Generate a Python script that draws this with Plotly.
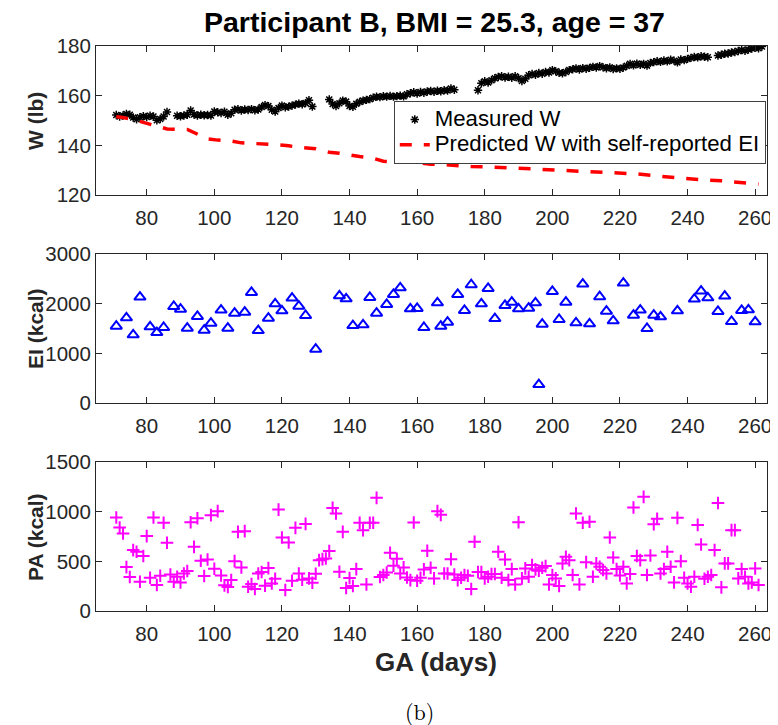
import plotly.graph_objects as go

# ---------------- data ----------------
w_days = list(range(71, 263))
measured_w = [
    152.2, 151.6, 152.0, 152.6, 152.3, 151.2, 150.5, 151.3, 151.7, 151.4,
    151.9, 151.6, 150.1, 150.6, 151.6, 153.4, None, None, 151.9, 151.7,
    152.0, 152.3, 154.0, 152.4, 152.0, 152.3, 152.1, 152.2, 152.0, 153.6,
    153.3, 153.0, 153.5, 152.3, 152.9, 154.3, 154.5, 154.0, 154.4, 154.2,
    154.6, 154.1, 154.4, 155.4, 156.2, 155.8, 154.3, 153.6, 155.0, 156.0,
    155.3, 155.6, 156.0, 156.4, 156.8, 156.5, 157.0, 158.2, 155.6, None,
    None, None, None, 158.5, 156.6, 155.8, 156.9, 158.0, 157.6, 155.8,
    155.5, 156.7, 157.5, 158.0, 158.3, 158.6, 159.2, 159.6, 159.4, 159.8,
    159.6, 159.9, 159.6, 159.8, 160.0, 159.7, 160.6, 161.0, 161.4, 160.9,
    161.5, 161.2, 161.7, 161.9, 161.6, 162.0, 161.8, 162.2, 162.1, 162.9,
    162.4, None, None, None, None, None, None, 162.2, 165.0, 165.8,
    165.3, 166.2, 167.0, 167.5, 167.8, 167.3, 167.6, 167.2, 167.8, 167.0,
    165.9, 166.8, 168.2, 168.7, 168.4, 169.1, 168.8, 169.5, 169.3, 170.3,
    169.8, 169.2, 169.0, 169.5, 170.3, 170.6, 171.0, 170.5, 171.1, 170.8,
    171.2, 171.6, 171.3, 171.9, 171.4, 171.0, 171.4, 170.7, 171.0, 170.8,
    171.3, 172.0, 172.8, 172.2, 172.9, 172.4, 172.8, 172.1, 173.2, 173.5,
    173.9, 173.6, 174.2, 173.8, 174.5, 174.1, 173.4, 174.6, 174.3, 174.8,
    175.2, 175.6, 175.4, 175.9, 175.7, 175.5, None, None, 176.2, 176.5,
    176.9, 177.0, 177.4, 177.6, 178.0, 178.4, 178.1, 178.6, 179.0, 179.3,
    179.1, 179.8,
]

pred_days = [71, 73, 77, 83, 86, 92, 95, 98, 101, 105, 108, 112, 118, 122, 125,
             130, 134, 137, 140, 143, 147, 150, 153, 157, 160, 164, 168, 172,
             176, 180, 185, 190, 195, 200, 205, 210, 215, 220, 225, 230, 235,
             240, 245, 250, 255, 261]
pred_w = [151.5, 151.2, 150.0, 147.7, 146.6, 146.4, 144.5, 142.6, 142.1, 141.7,
          141.0, 140.8, 140.3, 139.8, 139.2, 138.6, 137.2, 136.8, 136.0, 135.5,
          134.8, 133.6, 133.3, 133.4, 133.0, 132.4, 132.2, 131.7, 131.5, 131.4,
          131.1, 130.9, 130.6, 130.2, 130.0, 129.5, 129.1, 128.9, 128.5, 127.8,
          127.2, 126.3, 126.0, 125.7, 125.1, 124.4]

ei_days = [71, 74, 76, 78, 81, 83, 85, 88, 90, 92,
           95, 97, 99, 102, 104, 106, 109, 111, 113, 116,
           118, 120, 123, 125, 127, 130, 137, 139, 141, 144,
           146, 148, 151, 153, 155, 158, 160, 162, 166, 167,
           169, 172, 174, 176, 179, 181, 183, 186, 188, 190,
           193, 195, 196, 197, 200, 202, 204, 207, 209, 211,
           214, 216, 218, 221, 224, 226, 228, 230, 232, 237,
           242, 244, 246, 249, 251, 253, 256, 258, 260]
ei_vals = [1547, 1715, 1372, 2132, 1533, 1419, 1520, 1943, 1890, 1506,
           1742, 1466, 1607, 1870, 1506, 1809, 1829, 2226, 1459, 1708,
           1997, 1856, 2112, 1950, 1762, 1083, 2159, 2098, 1560, 1574,
           2125, 1809, 1984, 2186, 2320, 1896, 1903, 1520, 2017, 1547,
           1627, 2186, 1863, 2381, 1997, 2307, 1701, 1964, 2031, 1896,
           1910, 2017, 370, 1587, 2246, 1681, 2031, 1614, 2394, 1594,
           2139, 1849, 1654, 2414, 1769, 1870, 1500, 1769, 1735, 1856,
           2092, 2253, 2118, 1843, 2152, 1641, 1863, 1876, 1634]

pa_days = list(range(71, 262))
pa_vals = [
    941, 841, 780, 442, 342, 613, 596, 295, 553, 754,
    335, 941, 261, 355, 888, 687, 368, 295, 345, 288,
    378, 402, 894, 646, 934, 506, 352, 519, 965, 425,
    1005, 358, 258, 241, 311, 502, 797, 439, 804, 244,
    271, 221, 378, 392, 255, 432, 278, 325, 1021, 740,
    211, 690, 305, 837, 378, 315, 877, 328, 285, 375,
    512, 522, 529, 603, 1038, 981, 395, 797, 231, 332,
    251, 422, 888, 814, 268, 888, 888, 1139, 342, 362,
    388, 586, 455, 526, 378, 439, 338, 311, 891, 305,
    335, 419, 606, 435, 328, 1005, 968, 378, 378, 522,
    368, 311, 335, 362, 355, 221, 697, 392, 392, 328,
    345, 372, 372, 596, 335, 519, 311, 422, 268, 894,
    328, 429, 345, 462, 419, 405, 435, 452, 268, 362,
    328, 251, 479, 546, 512, 362, 981, 268, 888, 492,
    898, 345, 479, 445, 412, 378, 740, 539, 422, 358,
    445, 278, 372, 1042, 553, 512, 1149, 362, 559, 874,
    928, 378, 422, 596, 445, 288, 938, 502, 335, 278,
    244, 345, 867, 670, 325, 345, 362, 613, 1088, 238,
    479, 479, 814, 814, 328, 422, 345, 278, 288, 429,
    261,
]

x_ticks = [80, 100, 120, 140, 160, 180, 200, 220, 240, 260]
w_ticks = [120, 140, 160, 180]
ei_ticks = [0, 1000, 2000, 3000]
pa_ticks = [0, 500, 1000, 1500]

title_text = "Participant B, BMI = 25.3, age = 37"
series_names = ["Measured W", "Predicted W with self-reported EI"]
ylabels = ["W (lb)", "EI (kcal)", "PA (kcal)"]
xlabel = "GA (days)"

# ---------------- figure ----------------
FONT = "Liberation Sans, Arial, Helvetica, sans-serif"
AX = "#262626"


def leg(name):
    # larger glyphs than the legend's base size keeps the rows tight
    return '<span style="font-size:22.2px">' + name + "</span>"


fig = go.Figure()
fig.add_trace(go.Scatter(
    x=w_days, y=measured_w, mode="markers", name=leg(series_names[0]),
    marker=dict(symbol="asterisk-open", size=7, color="black",
                line=dict(width=1.5, color="black")),
    xaxis="x", yaxis="y"))
fig.add_trace(go.Scatter(
    x=pred_days, y=pred_w, mode="lines", name=leg(series_names[1]),
    line=dict(color="#ff0000", width=3.5, dash="12px,12px"),
    xaxis="x", yaxis="y"))
fig.add_trace(go.Scatter(
    x=ei_days, y=ei_vals, mode="markers", showlegend=False,
    marker=dict(symbol="triangle-up-open", size=10, color="#0000ff",
                line=dict(width=2, color="#0000ff")),
    xaxis="x2", yaxis="y2"))
fig.add_trace(go.Scatter(
    x=pa_days, y=pa_vals, mode="markers", showlegend=False,
    marker=dict(symbol="cross-thin-open", size=9, color="#ff00ff",
                line=dict(width=2, color="#ff00ff")),
    xaxis="x3", yaxis="y3"))

# The page body has an 8px margin, so the figure is drawn at (8, 8) in the window.
OFF = 8
W, H = 778 - OFF, 725 - OFF
# reference plot-area box (window pixels)
PL, PR, PT, PB = 96, 772, 46, 611
L, R, T, B = PL - OFF, 778 - PR, PT - OFF, 725 - PB
ph = PB - PT
pw = PR - PL


def px(xr):
    return (xr - PL) / pw


def py(yr):
    return (PB - yr) / ph


def ydom(top_px, bot_px):
    return [py(bot_px), py(top_px)]


common_x = dict(range=[65, 263.5], tickvals=x_ticks, ticks="inside", ticklen=6,
                tickcolor=AX, showline=True, linecolor=AX, linewidth=1,
                mirror="ticks", showgrid=False, zeroline=False,
                tickfont=dict(family=FONT, size=20.5, color=AX),
                ticklabelstandoff=4)
common_y = dict(ticks="inside", ticklen=6, tickcolor=AX, showline=True,
                linecolor=AX, linewidth=1, mirror="ticks", showgrid=False,
                zeroline=False, tickfont=dict(family=FONT, size=20.5, color=AX))

fig.update_layout(
    width=W, height=H,
    margin=dict(l=L, r=R, t=T, b=B),
    paper_bgcolor="white", plot_bgcolor="white",
    xaxis=dict(common_x, anchor="y"),
    xaxis2=dict(common_x, anchor="y2"),
    xaxis3=dict(common_x, anchor="y3"),
    yaxis=dict(common_y, domain=ydom(46, 195), range=[120, 180], tickvals=w_ticks, anchor="x"),
    yaxis2=dict(common_y, domain=ydom(254, 403), range=[0, 3000], tickvals=ei_ticks, anchor="x2"),
    yaxis3=dict(common_y, domain=ydom(462, 611), range=[0, 1500], tickvals=pa_ticks, anchor="x3"),
    title=dict(text="<b>" + title_text + "</b>", x=px(437), xref="paper",
               xanchor="center", y=1 - (22 - OFF) / H, yanchor="middle",
               font=dict(family=FONT, size=28.5, color="black")),
    legend=dict(x=px(396), y=py(101), xanchor="left", yanchor="top",
                bgcolor="white", bordercolor="#404040", borderwidth=1,
                font=dict(family=FONT, size=17, color="black"),
                tracegroupgap=0, itemwidth=30),
    showlegend=True,
)

# y-axis labels
for lab, (tp, bp) in zip(ylabels, [(46, 195), (254, 403), (462, 611)]):
    fig.add_annotation(text="<b>" + lab + "</b>", textangle=-90,
                       x=px(35), y=py((tp + bp) / 2),
                       xref="paper", yref="paper", xanchor="center", yanchor="middle",
                       showarrow=False, font=dict(family=FONT, size=21, color=AX))

fig.add_annotation(text="<b>" + xlabel + "</b>", x=px(439), y=py(662),
                   xref="paper", yref="paper", xanchor="center", yanchor="middle",
                   showarrow=False, font=dict(family=FONT, size=26, color=AX))
fig.add_annotation(text="(b)", x=px(422), y=py(710),
                   xref="paper", yref="paper", xanchor="center", yanchor="middle",
                   showarrow=False,
                   font=dict(family="Latin Modern Roman, DejaVu Serif, Liberation Serif, serif",
                             size=22, color="black"))

fig.write_html("out.html")
